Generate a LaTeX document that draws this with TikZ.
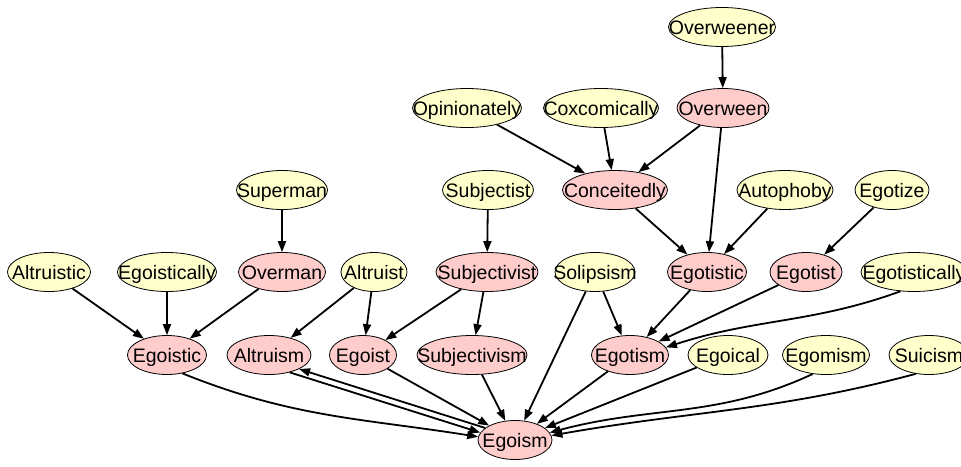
\documentclass[tikz,border=0pt]{standalone}
\usepackage{fontspec}
\setmainfont{Liberation Sans}
\usetikzlibrary{shapes.geometric,arrows.meta}
\definecolor{pinkfill}{HTML}{FFCCCC}
\definecolor{yellowfill}{HTML}{FFFFCC}
% zero-width label so the ellipse size is set by minimum width alone
\newcommand\lbl[1]{\makebox[0pt]{#1}}

\begin{document}
\begin{tikzpicture}[x=1pt,y=-1pt,
  word/.style={ellipse, draw=black, line width=0.8pt, inner sep=0pt,
    minimum height=39pt, minimum width=#1, text height=14pt, text depth=0pt,
    font=\fontsize{19.5}{22}\selectfont},
  root/.style={word=#1, fill=pinkfill},
  leaf/.style={word=#1, fill=yellowfill},
  link/.style={line width=1.8pt, -{Triangle[length=11pt,width=8pt]}}]
\useasboundingbox (0,0) rectangle (961,466);
\clip (0,0) rectangle (961,466);

% row 1
\node[leaf=107] (Overweener) at (722,27) {\lbl{Overweener}};
% row 2
\node[leaf=109] (Opinionately) at (467,108) {\lbl{Opinionately}};
\node[leaf=115] (Coxcomically) at (601,108) {\lbl{Coxcomically}};
\node[root=92] (Overween) at (723,108) {\lbl{Overween}};
% row 3
\node[leaf=91] (Superman) at (282,190) {\lbl{Superman}};
\node[leaf=91] (Subjectist) at (488,190) {\lbl{Subjectist}};
\node[root=105] (Conceitedly) at (615,190) {\lbl{Conceitedly}};
\node[leaf=96] (Autophoby) at (785,190) {\lbl{Autophoby}};
\node[leaf=74] (Egotize) at (892,190) {\lbl{Egotize}};
% row 4
\node[leaf=83] (Altruistic) at (49,272) {\lbl{Altruistic}};
\node[leaf=99] (Egoistically) at (167,272) {\lbl{Egoistically}};
\node[root=87] (Overman) at (282,272) {\lbl{Overman}};
\node[leaf=66] (Altruist) at (374,272) {\lbl{Altruist}};
\node[root=102] (Subjectivist) at (487,272) {\lbl{Subjectivist}};
\node[leaf=80] (Solipsism) at (595,272) {\lbl{Solipsism}};
\node[root=79] (Egotistic) at (707,272) {\lbl{Egotistic}};
\node[root=72] (Egotist) at (806,272) {\lbl{Egotist}};
\node[leaf=106] (Egotistically) at (914,272) {\lbl{Egotistically}};
% row 5
\node[root=79] (Egoistic) at (167,355) {\lbl{Egoistic}};
\node[root=84] (Altruism) at (269,355) {\lbl{Altruism}};
\node[root=67] (Egoist) at (363,355) {\lbl{Egoist}};
\node[root=110] (Subjectivism) at (472,355) {\lbl{Subjectivism}};
\node[root=77] (Egotism) at (630,355) {\lbl{Egotism}};
\node[leaf=80] (Egoical) at (728,355) {\lbl{Egoical}};
\node[leaf=87] (Egomism) at (826,355) {\lbl{Egomism}};
\node[leaf=80] (Suicism) at (929,355) {\lbl{Suicism}};
% bottom
\node[root=74] (Egoism) at (515,440) {\lbl{Egoism}};

% links
\draw[link] (Overweener) -- (Overween);
\draw[link] (Opinionately) -- (Conceitedly);
\draw[link] (Coxcomically) -- (Conceitedly);
\draw[link] (Overween) -- (Conceitedly);
\draw[link] (Overween) -- (Egotistic);
\draw[link] (Conceitedly) -- (Egotistic);
\draw[link] (Autophoby) -- (Egotistic);
\draw[link] (Egotize) -- (Egotist);
\draw[link] (Superman) -- (Overman);
\draw[link] (Subjectist) -- (Subjectivist);
\draw[link] (Altruistic) -- (Egoistic);
\draw[link] (Egoistically) -- (Egoistic);
\draw[link] (Overman) -- (Egoistic);
\draw[link] (Altruist) -- (Altruism);
\draw[link] (Altruist) -- (Egoist);
\draw[link] (Subjectivist) -- (Egoist);
\draw[link] (Subjectivist) -- (Subjectivism);
\draw[link] (Solipsism) -- (Egotism);
\draw[link] (Solipsism) -- (Egoism);
\draw[link] (Egotistic) -- (Egotism);
\draw[link] (Egotist) -- (Egotism);
\draw[link] (Egotistically.-125) to[out=-160,in=18] (Egotism.12);
\draw[link] (Egoistic.-50) to[out=-22,in=171] (Egoism.175);
\draw[link] (Altruism.-40) -- (Egoism.168);
\draw[link] (Egoism.158) -- (Altruism.-25);
\draw[link] (Egoist) -- (Egoism);
\draw[link] (Subjectivism) -- (Egoism);
\draw[link] (Egotism) -- (Egoism);
\draw[link] (Egoical) -- (Egoism);
\draw[link] (Egomism.-125) to[out=-155,in=15] (Egoism.12);
\draw[link] (Suicism.-125) to[out=-165,in=10] (Egoism.7);
\end{tikzpicture}
\end{document}
